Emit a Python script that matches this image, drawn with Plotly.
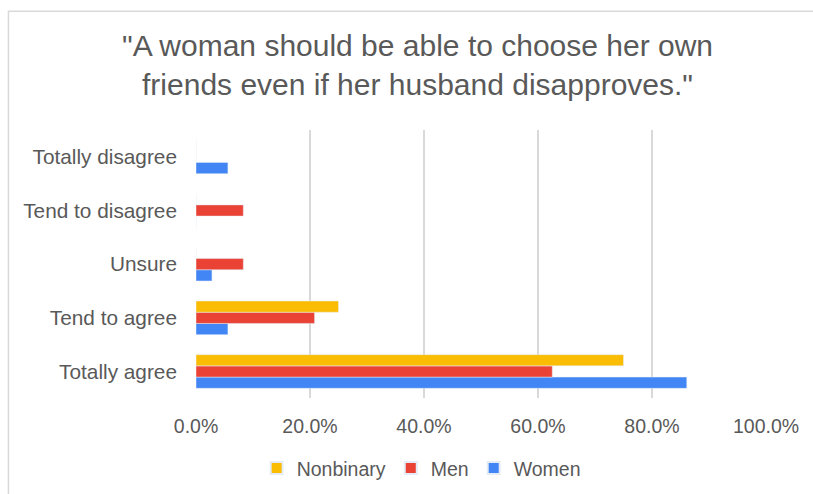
import plotly.graph_objects as go

categories = ["Totally agree", "Tend to agree", "Unsure", "Tend to disagree", "Totally disagree"]
women = [0.861, 0.056, 0.028, 0.0, 0.056]
men = [0.625, 0.208, 0.083, 0.083, 0.0]
nonbinary = [0.75, 0.25, 0.0, 0.0, 0.0]
tick_vals = [0, 0.2, 0.4, 0.6, 0.8, 1.0]
title_text = ("\"A woman should be able to choose her own<br>"
              "friends even if her husband disapproves.\"")

FONT = "Liberation Sans, Arial, sans-serif"
GREY = "#595959"

fig = go.Figure()
fig.add_trace(go.Bar(y=categories, x=women, orientation="h", name="Women",
                     marker=dict(color="#4285F4")))
fig.add_trace(go.Bar(y=categories, x=men, orientation="h", name="Men",
                     marker=dict(color="#EA4335")))
fig.add_trace(go.Bar(y=categories, x=nonbinary, orientation="h", name="Nonbinary",
                     marker=dict(color="#FBBC04")))

fig.update_layout(
    width=813, height=494,
    barmode="group", bargap=0.373, bargroupgap=0,
    plot_bgcolor="white", paper_bgcolor="white",
    margin=dict(l=196, r=47, t=130, b=93),
    font=dict(family=FONT, color=GREY, size=20),
    xaxis=dict(range=[0, 1.0], tickvals=tick_vals, tickformat=".1%",
               showgrid=True, gridcolor="#D9D9D9", gridwidth=1.5,
               zeroline=False, showline=False, ticks="", ticklabelstandoff=14,
               tickfont=dict(size=19.5, color=GREY)),
    yaxis=dict(showgrid=False, zeroline=False, showline=False, ticks="",
               ticklabelstandoff=18, categoryorder="array", categoryarray=categories,
               tickfont=dict(size=20.8, color=GREY)),
    legend=dict(orientation="h", xref="container", x=0.518, xanchor="center",
                yref="container", y=0.052, yanchor="middle",
                traceorder="reversed", font=dict(size=19.5, color=GREY),
                itemwidth=30, itemsizing="constant"),
    showlegend=True,
)

# Title as one two-line text
fig.add_annotation(text=title_text, xref="paper", yref="paper", x=0.389, y=1.244,
                   xanchor="center", yanchor="middle", showarrow=False,
                   font=dict(family=FONT, size=30, color=GREY))

fig.add_shape(type="rect", xref="paper", yref="paper",
              x0=-0.329, x1=1.2, y0=-0.6, y1=1.443,
              line=dict(color="#D9D9D9", width=1.5), fillcolor="rgba(0,0,0,0)", layer="below")

fig.write_html("out.html")
